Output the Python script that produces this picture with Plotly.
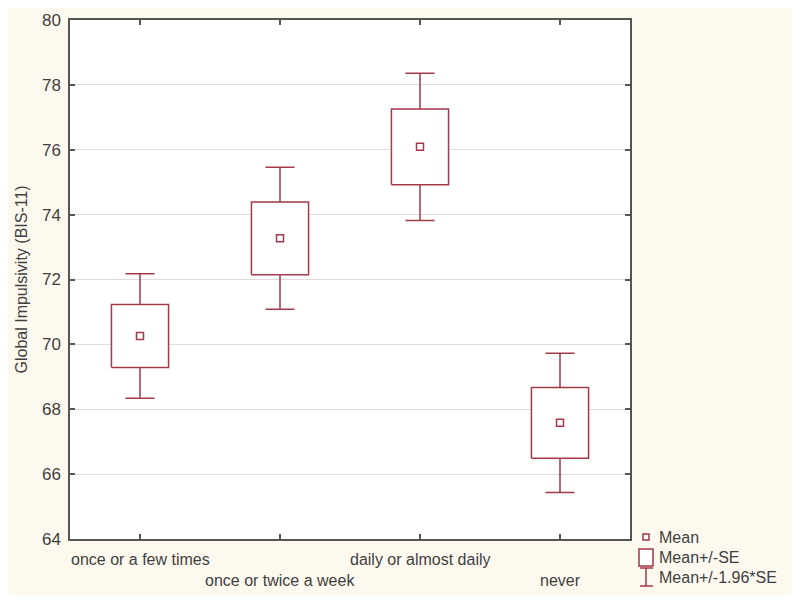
import plotly.graph_objects as go

categories = ["once or a few times", "once or twice a week", "daily or almost daily", "never"]
means = [70.26, 73.27, 76.09, 67.58]
se = [0.97, 1.12, 1.17, 1.09]
ci_half = [1.92, 2.19, 2.27, 2.15]
y_ticks = [64, 66, 68, 70, 72, 74, 76, 78, 80]
legend_labels = ["Mean", "Mean+/-SE", "Mean+/-1.96*SE"]
y_title = "Global Impulsivity (BIS-11)"

RED = "#A3394A"
TXT = "#3f3f3f"
AX = "#555555"
CREAM = "#FEF9EF"
FONT = "Arial, Liberation Sans, sans-serif"

# page body has an 8px margin, so the figure is drawn offset by 8px
OFF = 8
W, H = 800 - OFF, 602 - OFF
# plot area in screen coordinates
L, R, T, B = 70, 630, 20, 539
HALF = 0.204

def px2x(px):
    return (px - L) / (R - L)

def py2y(py):
    return (B - py) / (B - T)

xs = list(range(len(categories)))

fig = go.Figure()

# whiskers (mean +/- 1.96*SE)
fig.add_trace(go.Scatter(
    x=xs, y=means, mode="markers",
    marker=dict(size=1, color="rgba(0,0,0,0)"),
    error_y=dict(type="data", array=ci_half, color=RED, thickness=1.5, width=14.5),
    showlegend=False, hoverinfo="skip"))

# boxes (mean +/- SE)
bx, by = [], []
for i, (m, s) in enumerate(zip(means, se)):
    bx += [i - HALF, i + HALF, i + HALF, i - HALF, i - HALF, None]
    by += [m - s, m - s, m + s, m + s, m - s, None]
fig.add_trace(go.Scatter(
    x=bx, y=by, mode="lines", fill="toself", fillcolor="white",
    line=dict(color=RED, width=1.5), showlegend=False, hoverinfo="skip"))

# means
fig.add_trace(go.Scatter(
    x=xs, y=means, mode="markers",
    marker=dict(symbol="square-open", size=7, color=RED, line=dict(width=1.5, color=RED)),
    showlegend=False, hoverinfo="skip"))

shapes = [
    dict(type="rect", xref="paper", yref="paper", x0=px2x(5), x1=px2x(793), y0=py2y(595), y1=py2y(5),
         fillcolor=CREAM, line=dict(width=0), layer="below"),
    dict(type="rect", xref="paper", yref="paper", x0=0, x1=1, y0=0, y1=1,
         fillcolor="white", line=dict(width=0), layer="below"),
]

annotations = []
# staggered category labels
for i, c in enumerate(categories):
    annotations.append(dict(x=i, y=0, xref="x", yref="paper", text=c, showarrow=False,
                            yanchor="middle", xanchor="center",
                            yshift=-20 if i % 2 == 0 else -41,
                            font=dict(family=FONT, size=16, color=TXT)))

# y-axis title
annotations.append(dict(x=px2x(21), y=0.5, xref="paper", yref="paper", text=y_title,
                        showarrow=False, textangle=-90, xanchor="center", yanchor="middle",
                        font=dict(family=FONT, size=16, color=TXT)))

# manual legend
leg_y = [537, 557, 577]
for lab, yy in zip(legend_labels, leg_y):
    annotations.append(dict(x=px2x(657), y=py2y(yy), xref="paper", yref="paper", text=lab,
                            showarrow=False, xanchor="left", yanchor="middle",
                            font=dict(family=FONT, size=16, color=TXT)))
# small square
shapes.append(dict(type="rect", xref="paper", yref="paper", x0=px2x(643), x1=px2x(649),
                   y0=py2y(540), y1=py2y(534), line=dict(color=RED, width=1.5), fillcolor="white"))
# big square
shapes.append(dict(type="rect", xref="paper", yref="paper", x0=px2x(639), x1=px2x(653),
                   y0=py2y(566), y1=py2y(549), line=dict(color=RED, width=1.5), fillcolor="white"))
# I-beam
shapes.append(dict(type="line", xref="paper", yref="paper", x0=px2x(646), x1=px2x(646),
                   y0=py2y(586), y1=py2y(568), line=dict(color=RED, width=1.5)))
shapes.append(dict(type="line", xref="paper", yref="paper", x0=px2x(640), x1=px2x(653),
                   y0=py2y(568), y1=py2y(568), line=dict(color=RED, width=1.5)))
shapes.append(dict(type="line", xref="paper", yref="paper", x0=px2x(640), x1=px2x(653),
                   y0=py2y(586), y1=py2y(586), line=dict(color=RED, width=1.5)))

fig.update_layout(
    width=W, height=H,
    margin=dict(l=L - OFF, r=W - (R - OFF), t=T - OFF, b=H - (B - OFF), autoexpand=False),
    paper_bgcolor="white", plot_bgcolor="rgba(0,0,0,0)",
    shapes=shapes, annotations=annotations,
    font=dict(family=FONT, color=TXT),
    showlegend=False,
)
fig.update_xaxes(range=[-0.5, 3.5], tickvals=xs, showticklabels=False,
                 ticks="inside", ticklen=5, tickcolor=AX, tickwidth=1.5,
                 showline=True, linecolor=AX, linewidth=1.5, mirror="ticks",
                 showgrid=False, zeroline=False, automargin=False)
fig.update_yaxes(range=[64, 80], tickvals=y_ticks, ticks="inside", ticklen=5, tickcolor=AX, tickwidth=1.5,
                 showline=True, linecolor=AX, linewidth=1.5, mirror="ticks",
                 showgrid=True, gridcolor="#dddddd", gridwidth=1, zeroline=False,
                 tickfont=dict(family=FONT, size=17, color=TXT), ticklabelstandoff=4,
                 automargin=False)

fig.write_html("out.html")
